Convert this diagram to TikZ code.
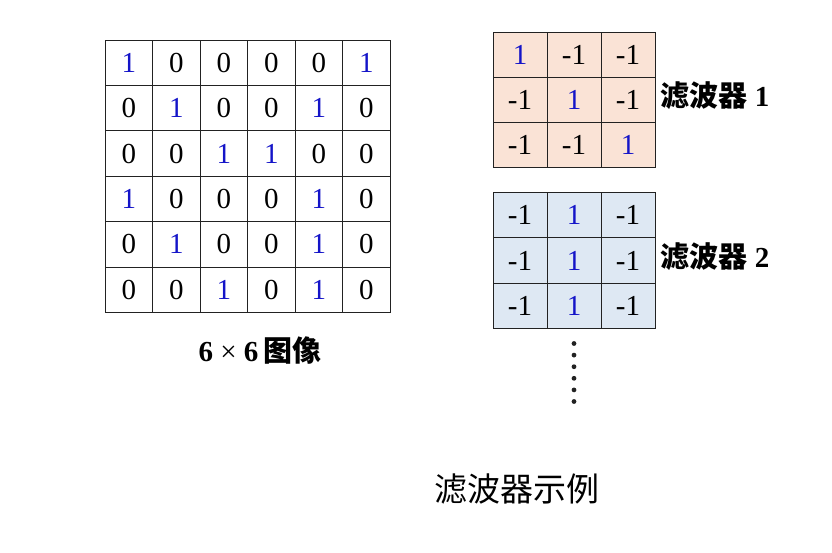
\documentclass[tikz,border=0pt]{standalone}
\usepackage{fontspec}
\setmainfont{Liberation Serif}
\newfontfamily\cjk{Noto Sans CJK SC}
\usetikzlibrary{positioning}
\definecolor{ink}{HTML}{222222}
\definecolor{wblue}{HTML}{1414C8}
\definecolor{wpeach}{HTML}{FAE3D6}
\definecolor{wsky}{HTML}{DEE8F3}
\tikzset{cell/.style={draw=ink, line width=0.9pt, inner sep=0pt, minimum width=47.5pt, minimum height=45.4pt, font=\fontsize{29}{31}\selectfont},
  fcell/.style={cell, minimum width=54pt, minimum height=45.3pt},
  lbl/.style={inner sep=0pt, font=\fontsize{29}{31}\selectfont\bfseries}}
\newcommand{\cellval}[1]{\ifnum#1=1\textcolor{wblue}{#1}\else#1\fi}

\begin{document}
\begin{tikzpicture}[x=1pt,y=-1pt]
  \useasboundingbox (0,0) rectangle (832,552);
  % 6x6 image
  \foreach \row [count=\r from 0] in {{1,0,0,0,0,1},{0,1,0,0,1,0},{0,0,1,1,0,0},{1,0,0,0,1,0},{0,1,0,0,1,0},{0,0,1,0,1,0}}{
    \foreach \v [count=\c from 0] in \row {
      \node[cell] (img-\r-\c) at (128.75+47.5*\c, 62.7+45.4*\r) {\cellval{\v}};}}
  \node[lbl, below=24pt of img-5-2.south east, xshift=12pt] (imglabel) {6 {\mdseries ×} 6\,{\cjk 图像}};
  % filters
  \foreach \f/\pig/\y in {1/wpeach/32,2/wsky/192.5}{
    \ifnum\f=1 \def\rows{{1,-1,-1},{-1,1,-1},{-1,-1,1}}\else \def\rows{{-1,1,-1},{-1,1,-1},{-1,1,-1}}\fi
    \foreach \row [count=\r from 0] in \rows {
      \foreach \v [count=\c from 0] in \row {
        \node[fcell, fill=\pig] (f\f-\r-\c) at (520+54*\c, \y+22.65+45.3*\r) {\cellval{\v}};}}
    \node[lbl, anchor=west] (f\f label) at ([xshift=5pt, yshift=4pt]f\f-1-2.east) {{\cjk 滤波器} \f};}
  % more filters
  \foreach \i in {0,...,5}{\fill[ink] (574, 343.5+11.6*\i) circle (2.4);}
  \node[inner sep=0pt, font=\fontsize{33}{35}\selectfont\cjk] (title) at (517,489) {滤波器示例};
\end{tikzpicture}
\end{document}
